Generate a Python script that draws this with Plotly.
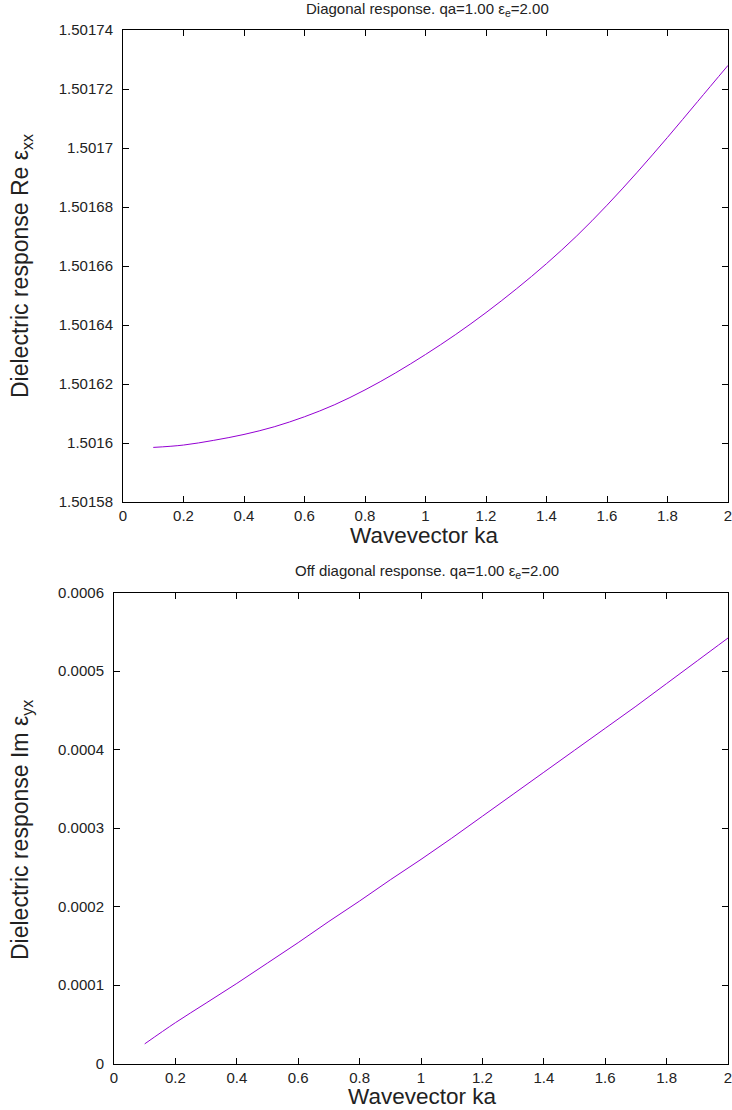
import plotly.graph_objects as go

# ---- data ----
ka = [0.1, 0.2, 0.3, 0.4, 0.5, 0.6, 0.7, 0.8, 0.9, 1.0,
      1.1, 1.2, 1.3, 1.4, 1.5, 1.6, 1.7, 1.8, 1.9, 2.0]
re_exx = [1.5015985, 1.5015993, 1.5016009, 1.5016029, 1.5016055,
          1.5016089, 1.5016130, 1.5016180, 1.5016237, 1.5016300,
          1.5016368, 1.5016442, 1.5016522, 1.5016608, 1.5016702,
          1.5016806, 1.5016918, 1.5017036, 1.5017158, 1.5017280]
im_eyx = [0.0000250, 0.0000520, 0.0000770, 0.0001020, 0.0001280,
          0.0001540, 0.0001810, 0.0002070, 0.0002340, 0.0002600,
          0.0002870, 0.0003150, 0.0003430, 0.0003710, 0.0003990,
          0.0004270, 0.0004550, 0.0004840, 0.0005130, 0.0005420]

x_tickvals = [0, 0.2, 0.4, 0.6, 0.8, 1.0, 1.2, 1.4, 1.6, 1.8, 2.0]
x_ticktext = ["0", "0.2", "0.4", "0.6", "0.8", "1", "1.2", "1.4", "1.6", "1.8", "2"]
y1_tickvals = [1.50158, 1.50160, 1.50162, 1.50164, 1.50166, 1.50168, 1.50170, 1.50172, 1.50174]
y1_ticktext = ["1.50158", "1.5016", "1.50162", "1.50164", "1.50166", "1.50168", "1.5017", "1.50172", "1.50174"]
y2_tickvals = [0, 0.0001, 0.0002, 0.0003, 0.0004, 0.0005, 0.0006]
y2_ticktext = ["0", "0.0001", "0.0002", "0.0003", "0.0004", "0.0005", "0.0006"]

title_top = "Diagonal response. qa=1.00 ε<sub>e</sub>=2.00"
title_bot = "Off diagonal response. qa=1.00 ε<sub>e</sub>=2.00"
xlabel = "Wavevector ka"
ylabel_top = "Dielectric response Re ε<sub>xx</sub>"
ylabel_bot = "Dielectric response Im ε<sub>yx</sub>"

W, H = 732, 1110
LINE = "#9400D3"
FONT = "Liberation Sans, Arial, sans-serif"
TXT = "#222222"

fig = go.Figure()
fig.add_trace(go.Scatter(x=ka, y=re_exx, mode="lines", line=dict(color=LINE, width=1, shape="spline"),
                         xaxis="x", yaxis="y", showlegend=False))
fig.add_trace(go.Scatter(x=ka, y=im_eyx, mode="lines", line=dict(color=LINE, width=1, shape="spline"),
                         xaxis="x2", yaxis="y2", showlegend=False))

def px_x(p):
    return p / W

def px_y(p):
    return 1 - p / H

axis_common = dict(showgrid=False, zeroline=False, showline=True, linecolor="#000000", linewidth=1,
                   mirror="ticks", ticks="inside", ticklen=6, tickcolor="#000000", tickwidth=1,
                   tickfont=dict(family=FONT, size=15, color=TXT), fixedrange=True,
                   ticklabeloverflow="allow", automargin=False)

fig.update_layout(
    width=W, height=H, autosize=False,
    margin=dict(l=0, r=0, t=0, b=0, pad=0, autoexpand=False),
    paper_bgcolor="white", plot_bgcolor="white",
    xaxis=dict(domain=[px_x(123), px_x(728)], range=[0, 2], anchor="y",
               tickmode="array", tickvals=x_tickvals, ticktext=x_ticktext, ticklabelstandoff=0, **axis_common),
    yaxis=dict(domain=[px_y(502), px_y(30)], range=[1.50158, 1.50174], anchor="x",
               tickmode="array", tickvals=y1_tickvals, ticktext=y1_ticktext, ticklabelstandoff=6, **axis_common),
    xaxis2=dict(domain=[px_x(114), px_x(728)], range=[0, 2], anchor="y2",
                tickmode="array", tickvals=x_tickvals, ticktext=x_ticktext, ticklabelstandoff=0, **axis_common),
    yaxis2=dict(domain=[px_y(1063.5), px_y(592.5)], range=[0, 0.0006], anchor="x2",
                tickmode="array", tickvals=y2_tickvals, ticktext=y2_ticktext, ticklabelstandoff=6, **axis_common),
)

def ann(text, x, y, size, angle=0):
    fig.add_annotation(text=text, x=px_x(x), y=px_y(y), xref="paper", yref="paper",
                       xanchor="center", yanchor="middle", showarrow=False, textangle=angle,
                       font=dict(family=FONT, size=size, color=TXT))

ann(title_top, 427, 9, 15)
ann(title_bot, 427, 571, 15)
ann(xlabel, 424, 535, 22.5)
ann(xlabel, 422, 1096, 22.5)
ann(ylabel_top, 21, 266, 23, -90)
ann(ylabel_bot, 21, 830, 23, -90)

fig.write_html(
    "out.html",
    config={"responsive": False, "displayModeBar": False},
    default_width="732px", default_height="1110px",
    post_script="document.body.style.margin='0';document.body.style.padding='0';"
                "document.body.style.overflow='hidden';"
                "document.documentElement.style.overflow='hidden';",
)
